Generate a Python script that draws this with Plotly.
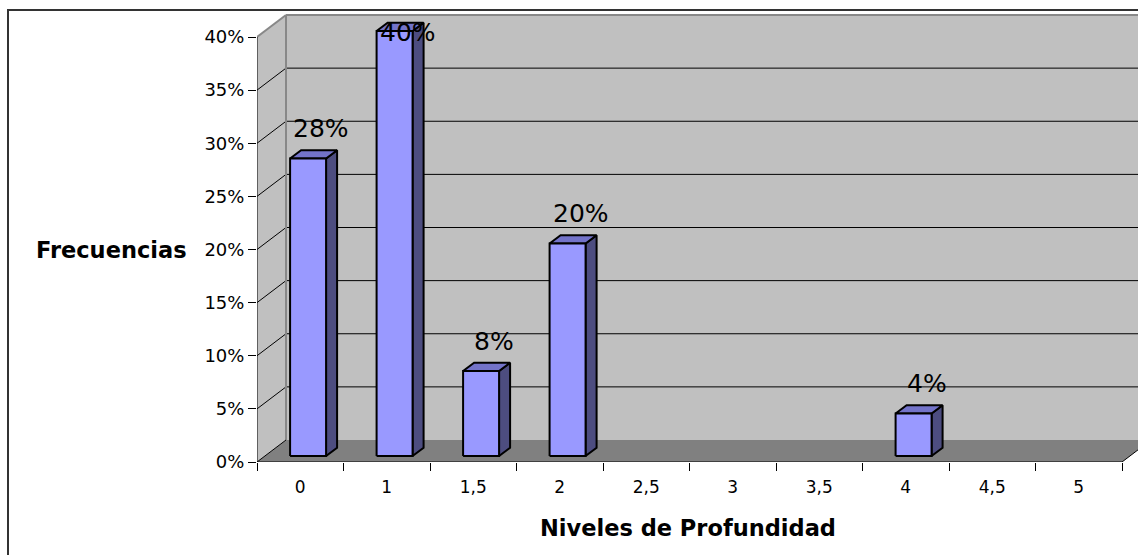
import plotly.graph_objects as go

# Frequency of each depth level
categories = ["0", "1", "1,5", "2", "2,5", "3", "3,5", "4", "4,5", "5"]
frequencies = [0.28, 0.40, 0.08, 0.20, 0.0, 0.0, 0.0, 0.04, 0.0, 0.0]
y_ticks = [0.0, 0.05, 0.10, 0.15, 0.20, 0.25, 0.30, 0.35, 0.40]

W, H = 1138, 555
ML, MR, MT, MB = 257, 0, 12, 93
PW, PH = W - ML - MR, H - MT - MB

SLOT_PX = 86.5          # pixels per category slot
UNIT_PX = 1062.5        # pixels per 1.0 (=100%) on the value axis
X_RANGE = [0, PW / SLOT_PX]
Y_RANGE = [0, PH / UNIT_PX]

# oblique projection of the depth axis
DEPTH_DX, DEPTH_DY = 29, 22
DU, DV = DEPTH_DX / SLOT_PX, DEPTH_DY / UNIT_PX
WALL_TOP = 0.40
N = len(categories)


def P(u, v, d):
    return u + d * DU, v + d * DV


def px_paper(px, py):
    return (px - ML) / PW, (H - MB - py) / PH


FONT = "DejaVu Sans"
FRONT, TOP, SIDE = "#9999FF", "#7373C9", "#4D4D80"
WALL, FLOOR, EDGE = "#C0C0C0", "#808080", "#888888"

fig = go.Figure()
shapes = []


def poly(pts, fill, line_color, width):
    path = "M " + " L ".join(f"{x},{y}" for x, y in pts) + " Z"
    shapes.append(dict(type="path", path=path, xref="x", yref="y", layer="below",
                       fillcolor=fill, line=dict(color=line_color, width=width)))


def seg(a, b, color, width):
    shapes.append(dict(type="line", xref="x", yref="y", layer="below",
                       x0=a[0], y0=a[1], x1=b[0], y1=b[1],
                       line=dict(color=color, width=width)))


# walls and floor
poly([P(0, 0, 1), P(N, 0, 1), P(N, WALL_TOP, 1), P(0, WALL_TOP, 1)], WALL, WALL, 0)
poly([P(0, 0, 0), P(0, 0, 1), P(0, WALL_TOP, 1), P(0, WALL_TOP, 0)], WALL, WALL, 0)
poly([P(0, 0, 0), P(N, 0, 0), P(N, 0, 1), P(0, 0, 1)], FLOOR, FLOOR, 0)

# gridlines on the side and back walls
for t in y_ticks[1:-1]:
    seg(P(0, t, 0), P(0, t, 1), "black", 1)
    seg(P(0, t, 1), P(N + 1, t, 1), "black", 1)

# wall edges
seg(P(0, 0, 1), P(0, WALL_TOP, 1), EDGE, 2)
seg(P(0, WALL_TOP, 0), P(0, WALL_TOP, 1), EDGE, 2)
seg(P(0, WALL_TOP, 1), P(N + 1, WALL_TOP, 1), EDGE, 2)
seg(P(0, 0, 0), P(0, 0, 1), "black", 1)
seg(P(0, 0, 0), P(N, 0, 0), "black", 1)
seg(P(N, 0, 0), P(N, 0, 1), "black", 1)
seg(P(0, 0, 0), P(0, WALL_TOP, 0), "black", 1)

# 3D columns
D0, D1 = 0.27, 0.65
HALF = 0.208
faces = {"front": ([], []), "top": ([], []), "side": ([], [])}


def add(face, pts):
    xs, ys = faces[face]
    for x, y in pts + [pts[0]]:
        xs.append(x)
        ys.append(y)
    xs.append(None)
    ys.append(None)


annotations = []
for i, (cat, v) in enumerate(zip(categories, frequencies)):
    if v <= 0:
        continue
    c = i + 0.5
    ul, ur = c - HALF, c + HALF
    add("front", [P(ul, 0, D0), P(ur, 0, D0), P(ur, v, D0), P(ul, v, D0)])
    add("side", [P(ur, 0, D0), P(ur, 0, D1), P(ur, v, D1), P(ur, v, D0)])
    add("top", [P(ul, v, D0), P(ur, v, D0), P(ur, v, D1), P(ul, v, D1)])
    # value label above the column, kept inside the chart area
    ly = min(v + (D0 * DEPTH_DY + 30) / UNIT_PX, 0.4038)
    annotations.append(dict(x=c + 21 / SLOT_PX, y=ly, xref="x", yref="y",
                            text=f"{round(v * 100)}%", showarrow=False,
                            xanchor="center", yanchor="middle",
                            font=dict(family=FONT, size=25, color="black")))

for face, color in (("side", SIDE), ("top", TOP), ("front", FRONT)):
    xs, ys = faces[face]
    fig.add_trace(go.Scatter(x=xs, y=ys, mode="lines", fill="toself",
                             fillcolor=color, line=dict(color="black", width=2),
                             hoverinfo="skip", showlegend=False))

# outer chart frame
fx0, fy0 = px_paper(8, 10)
shapes.append(dict(type="rect", xref="paper", yref="paper", x0=fx0, y0=fy0,
                   x1=1.05, y1=-0.4, line=dict(color="#333333", width=2),
                   fillcolor="rgba(0,0,0,0)", layer="above"))

tx, ty = px_paper(111.5, 250)
annotations.append(dict(x=tx, y=ty, xref="paper", yref="paper", text="<b>Frecuencias</b>",
                        showarrow=False, xanchor="center", yanchor="middle",
                        font=dict(family=FONT, size=22.5, color="black")))
tx, ty = px_paper(688, 528)
annotations.append(dict(x=tx, y=ty, xref="paper", yref="paper",
                        text="<b>Niveles de Profundidad</b>",
                        showarrow=False, xanchor="center", yanchor="middle",
                        font=dict(family=FONT, size=22.5, color="black")))

fig.update_layout(
    width=W, height=H,
    margin=dict(l=ML, r=MR, t=MT, b=MB, autoexpand=False),
    paper_bgcolor="white", plot_bgcolor="white",
    shapes=shapes, annotations=annotations,
    xaxis=dict(range=X_RANGE, showgrid=False, zeroline=False, showline=False,
               tickmode="array", tickvals=[i + 0.5 for i in range(N)],
               ticktext=categories, ticks="", ticklabelstandoff=13,
               tickfont=dict(family=FONT, size=17, color="black"),
               minor=dict(tickmode="array", tickvals=list(range(N + 1)),
                          ticks="outside", ticklen=8, tickcolor="black",
                          tickwidth=1, showgrid=False),
               fixedrange=True),
    yaxis=dict(range=Y_RANGE, showgrid=False, zeroline=False, showline=False,
               tickmode="array", tickvals=y_ticks, tickformat=".0%",
               ticks="outside", ticklen=8, tickcolor="black", tickwidth=1,
               tickfont=dict(family=FONT, size=18, color="black"),
               fixedrange=True),
)

fig.write_html("out.html")
